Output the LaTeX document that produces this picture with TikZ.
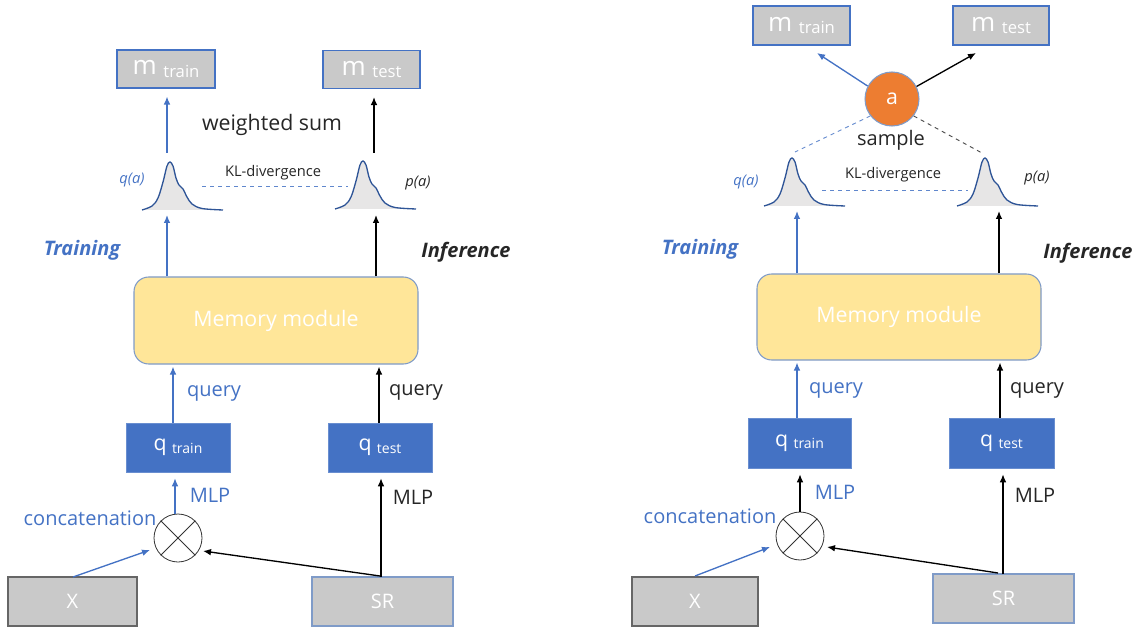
\documentclass[tikz,border=0pt]{standalone}
\usepackage{fontspec}
\setmainfont{Open Sans}
\usetikzlibrary{arrows.meta,calc}
\definecolor{ublue}{HTML}{4472C4}
\definecolor{dblue}{HTML}{2F5597}
\definecolor{bgray}{HTML}{C9C9C9}
\definecolor{lgray}{HTML}{E7E6E6}
\definecolor{mem}{HTML}{FFE699}
\definecolor{edge}{HTML}{7F9BC8}
\definecolor{orng}{HTML}{ED7D31}
\definecolor{txt}{HTML}{262626}
\newcommand{\fs}[1]{\fontsize{#1}{#1}\selectfont}
% symbol with a lowered, smaller index word
\newcommand{\mtxt}[1]{{\fs{19.5}m}\hspace{5pt}\raisebox{-2pt}{\fs{12.5}#1}}
\newcommand{\qtxt}[1]{{\fs{16}q}\hspace{4pt}\raisebox{-2pt}{\fs{10.5}#1}}
\tikzset{
  mw/.style={minimum width=#1*0.75pt},
  mh/.style={minimum height=#1*0.75pt},
  ms/.style={minimum size=#1*0.75pt},
  grybox/.style={draw=#1, line width=0.8pt, fill=bgray, text=white, inner sep=0pt, mh=38},
  grybox/.default=ublue,
  qbox/.style={draw=ublue!80!white, fill=ublue, text=white, inner sep=0pt, mh=49},
  membox/.style={draw=edge, line width=0.8pt, fill=mem, rounded corners=11pt, text=white, inner sep=0pt, font=\fs{16}},
  blbl/.style={text=ublue, inner sep=1pt},
  klbl/.style={text=txt, inner sep=1pt},
  barrow/.style={draw=ublue, line width=1pt, -{Latex[length=6pt,width=5pt]}},
  karrow/.style={draw=black, line width=1pt, -{Latex[length=6pt,width=5pt]}},
  otimes/.style={circle, draw=black!80, line width=0.6pt, ms=48, inner sep=0pt},
  kldash/.style={ublue!85, dashed, line width=0.7pt}
}
% a peaked density curve, peak at the current origin
\newcommand{\density}{%
  \fill[lgray] plot[smooth, tension=0.55] coordinates {(-28,48) (-18,44) (-12,36) (-7,20) (-3,4) (0,0) (3,4) (6,16) (9,23) (13,27) (17,35) (22,42) (32,46.5) (53,48)} -- cycle;
  \draw[dblue, line width=1pt] plot[smooth, tension=0.55] coordinates {(-28,48) (-18,44) (-12,36) (-7,20) (-3,4) (0,0) (3,4) (6,16) (9,23) (13,27) (17,35) (22,42) (32,46.5) (53,48)};
}
\begin{document}
\begin{tikzpicture}[x=0.75pt, y=-0.75pt, font=\fs{15}]
\useasboundingbox (0,0) rectangle (1142,627);

% ===================== left: weighted sum =====================
\node[grybox, mw=98] (mtrainL) at (166,69) {\mtxt{train}};
\node[grybox, mw=97] (mtestL) at (371.5,69.5) {\mtxt{test}};
\node[klbl, font=\fs{16}] (wsum) at (272,125) {weighted sum};

\begin{scope}[shift={(170,162)}] \density \end{scope}
\begin{scope}[shift={(363,161)}] \density \end{scope}
\coordinate (qtopL) at (167,153);
\coordinate (ptopL) at (374,153);
\coordinate (qbotL) at (167,215);
\coordinate (pbotL) at (376,215);
\node[blbl, font=\itshape\fs{11}] (qaL) at (132,180) {q(a)};
\node[klbl, font=\itshape\fs{11}] (paL) at (418,183) {p(a)};
\node[klbl, font=\fs{11}] (klL) at (273,173) {KL-divergence};
\coordinate (kl1L) at (202,186);
\coordinate (kl2L) at (348,186);
\draw[kldash] (kl1L) -- (kl2L);

\draw[barrow] (qtopL) -- ($(qtopL |- mtrainL.south)+(0,8)$);
\draw[karrow] (ptopL) -- ($(ptopL |- mtestL.south)+(0,8)$);

\node[blbl, font=\bfseries\itshape\fs{15}] (trainL) at (82,250) {Training};
\node[klbl, font=\bfseries\itshape\fs{15}] (inferL) at (466,252) {Inference};

\node[membox, mw=284, mh=87] (memL) at (276,320.5) {Memory module};
\draw[barrow] (memL.north -| qbotL) -- (qbotL);
\draw[karrow] (memL.north -| pbotL) -- (pbotL);

\node[qbox, mw=104] (qtrainL) at (178,447.5) {\qtxt{train}};
\node[qbox, mw=104] (qtestL) at (380,447.5) {\qtxt{test}};
\coordinate (qa1L) at (173,423);
\coordinate (qa2L) at (379,423);
\draw[barrow] (qa1L) -- ($(qa1L |- memL.south)+(0,2)$);
\draw[karrow] (qa2L) -- ($(qa2L |- memL.south)+(0,2)$);
\node[blbl] (query1L) at (214,393) {query};
\node[klbl] (query2L) at (416,392) {query};

\node[otimes] (catL) at (178,538) {};
\draw[black!80, line width=0.6pt] (catL.45) -- (catL.225) (catL.135) -- (catL.315);
\node[blbl, anchor=east] (concatL) at (158,518) {concatenation};

\node[grybox=black!60, mw=129, mh=49, font=\fs{15}] (xL) at (72.5,601.5) {X};
\node[grybox=edge, mw=141, mh=49, font=\fs{15}] (srL) at (382.5,601.5) {SR};

\coordinate (mlp1L) at (175,514);
\coordinate (mlp2L) at (381,577);
\draw[barrow] (mlp1L) -- ($(mlp1L |- qtrainL.south)+(0,6)$);
\draw[karrow] (mlp2L) -- ($(mlp2L |- qtestL.south)+(0,6)$);
\node[blbl] (mlpaL) at (210,495) {MLP};
\node[klbl] (mlpbL) at (413,497) {MLP};

\coordinate (xtopL) at (73,577);
\coordinate (srtopL) at (380,576);
\draw[barrow] (xtopL) -- ($(catL.center)+(-28,12)$);
\draw[karrow] (srtopL) -- ($(catL.center)+(25,13)$);

% ===================== right: sampling =====================
\node[grybox, mw=97, mh=39] (mtrainR) at (801.5,25.5) {\mtxt{train}};
\node[grybox, mw=96, mh=39] (mtestR) at (1001,25.5) {\mtxt{test}};

\node[circle, draw=edge, line width=0.8pt, fill=orng, text=white, ms=54, inner sep=0pt, font=\fs{16}] (aR) at (892,99) {a};
\coordinate (tipmtr) at (817,53);
\coordinate (tipmte) at (976,53);
\draw[barrow] (aR.152) -- (tipmtr);
\draw[karrow] (aR.27) -- (tipmte);
\node[klbl, font=\fs{15}] (sampR) at (891,140) {sample};

\begin{scope}[shift={(792,158)}] \density \end{scope}
\begin{scope}[shift={(985,158)}] \density \end{scope}
\coordinate (qtopR) at (795,152);
\coordinate (ptopR) at (982,153);
\draw[ublue!80, dashed, line width=0.7pt] (aR.218) -- (qtopR);
\draw[black!70, dashed, line width=0.7pt] (aR.322) -- (ptopR);

\node[blbl, font=\itshape\fs{11}] (qaR) at (746,182) {q(a)};
\node[klbl, font=\itshape\fs{11}] (paR) at (1037,178) {p(a)};
\node[klbl, font=\fs{11}] (klR) at (893,175) {KL-divergence};
\coordinate (kl1R) at (822,190);
\coordinate (kl2R) at (968,190);
\draw[kldash] (kl1R) -- (kl2R);

\node[blbl, font=\bfseries\itshape\fs{15}] (trainR) at (700,249) {Training};
\node[klbl, font=\bfseries\itshape\fs{15}] (inferR) at (1088,253) {Inference};

\node[membox, mw=284, mh=86] (memR) at (899,317) {Memory module};
\coordinate (qbotR) at (797,211);
\coordinate (pbotR) at (999,211);
\draw[barrow] (memR.north -| qbotR) -- (qbotR);
\draw[karrow] (memR.north -| pbotR) -- (pbotR);

\node[qbox, mw=103, mh=50] (qtrainR) at (799.5,443) {\qtxt{train}};
\node[qbox, mw=105, mh=50] (qtestR) at (1001.5,443) {\qtxt{test}};
\coordinate (qa1R) at (797,418);
\coordinate (qa2R) at (1000,418);
\draw[barrow] (qa1R) -- ($(qa1R |- memR.south)+(0,2)$);
\draw[karrow] (qa2R) -- ($(qa2R |- memR.south)+(0,2)$);
\node[blbl] (query1R) at (836,390) {query};
\node[klbl] (query2R) at (1037,390) {query};

\node[otimes] (catR) at (800,536) {};
\draw[black!80, line width=0.6pt] (catR.45) -- (catR.225) (catR.135) -- (catR.315);
\node[blbl, anchor=east] (concatR) at (778,516) {concatenation};

\node[grybox=black!60, mw=126, mh=49, font=\fs{15}] (xR) at (695,601.5) {X};
\node[grybox=edge, mw=141, mh=49, font=\fs{15}] (srR) at (1003.5,598.5) {SR};

\coordinate (mlp1R) at (800,512);
\coordinate (mlp2R) at (1003,574);
\draw[karrow] (mlp1R) -- ($(mlp1R |- qtrainR.south)+(0,6)$);
\draw[karrow] (mlp2R) -- ($(mlp2R |- qtestR.south)+(0,6)$);
\node[blbl] (mlpaR) at (835,492) {MLP};
\node[klbl] (mlpbR) at (1035,495) {MLP};

\coordinate (xtopR) at (695,576);
\coordinate (srtopR) at (998,573);
\draw[barrow] (xtopR) -- ($(catR.center)+(-30,11)$);
\draw[karrow] (srtopR) -- ($(catR.center)+(27,11)$);
\end{tikzpicture}
\end{document}
